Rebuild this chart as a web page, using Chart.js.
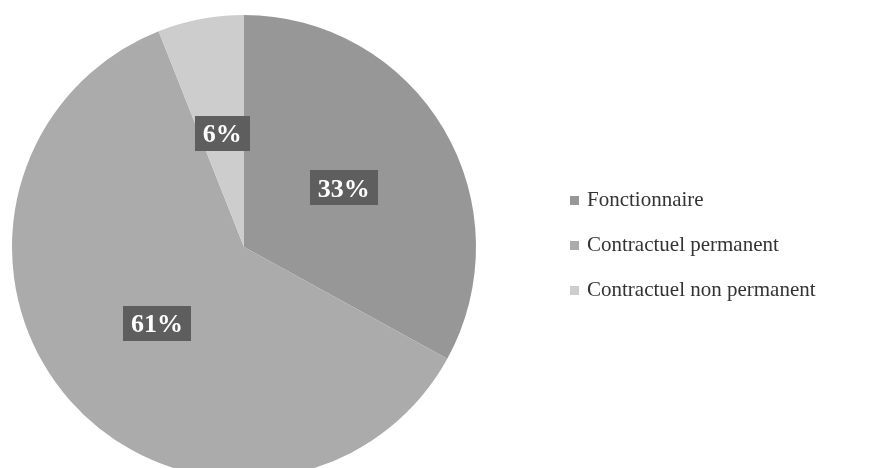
<!DOCTYPE html>
<html>
<head>
<meta charset="utf-8">
<script src="https://cdn.jsdelivr.net/npm/chart.js@4/dist/chart.umd.min.js"></script>
<style>
  html, body { margin: 0; padding: 0; background: #ffffff; }
  #wrap { width: 876px; height: 468px; position: relative; }
</style>
</head>
<body>
<div id="wrap"><canvas id="c" width="876" height="468"></canvas></div>
<script>
// Répartition du personnel par statut (%)
const categories = ['Fonctionnaire', 'Contractuel permanent', 'Contractuel non permanent'];
const shares = [33, 61, 6];
const sliceColors = ['#979797', '#ababab', '#cdcdcd'];

const SERIF = '"Liberation Serif", "DejaVu Serif", serif';

// Percentage labels in dark boxes, halfway along each slice's bisector
const boxLabels = {
  id: 'boxLabels',
  afterDatasetsDraw(chart) {
    const ctx = chart.ctx;
    const meta = chart.getDatasetMeta(0);
    ctx.save();
    ctx.font = 'bold 26px ' + SERIF;
    ctx.textAlign = 'center';
    ctx.textBaseline = 'middle';
    meta.data.forEach((arc, i) => {
      const p = arc.getProps(['x', 'y', 'startAngle', 'endAngle', 'outerRadius'], true);
      const mid = (p.startAngle + p.endAngle) / 2;
      const r = p.outerRadius * 0.5;
      const cx = p.x + Math.cos(mid) * r;
      const cy = p.y + Math.sin(mid) * r;
      const txt = shares[i] + '%';
      const w = ctx.measureText(txt).width + 16;
      const h = 35;
      ctx.fillStyle = '#5e5e5e';
      ctx.fillRect(Math.round(cx - w / 2), Math.round(cy - h / 2), Math.round(w), h);
      ctx.fillStyle = '#ffffff';
      ctx.fillText(txt, cx, cy + 2);
    });
    ctx.restore();
  }
};

// Legend on the right: small square marker then the category name
const sideLegend = {
  id: 'sideLegend',
  afterDraw(chart) {
    const ctx = chart.ctx;
    ctx.save();
    ctx.font = '21px ' + SERIF;
    ctx.textAlign = 'left';
    ctx.textBaseline = 'alphabetic';
    categories.forEach((name, i) => {
      const base = 206 + i * 45;
      ctx.fillStyle = sliceColors[i];
      ctx.fillRect(570, base - 10, 9, 9);
      ctx.fillStyle = '#333333';
      ctx.fillText(name, 587, base);
    });
    ctx.restore();
  }
};

new Chart(document.getElementById('c'), {
  type: 'pie',
  data: {
    labels: categories,
    datasets: [{
      data: shares,
      backgroundColor: sliceColors,
      borderWidth: 0,
      radius: 232
    }]
  },
  options: {
    responsive: false,
    animation: false,
    devicePixelRatio: 1,
    layout: { padding: { left: 12, top: 26, right: 400, bottom: 0 } },
    plugins: {
      legend: { display: false },
      tooltip: { enabled: false },
      title: { display: false }
    }
  },
  plugins: [boxLabels, sideLegend]
});
</script>
</body>
</html>
